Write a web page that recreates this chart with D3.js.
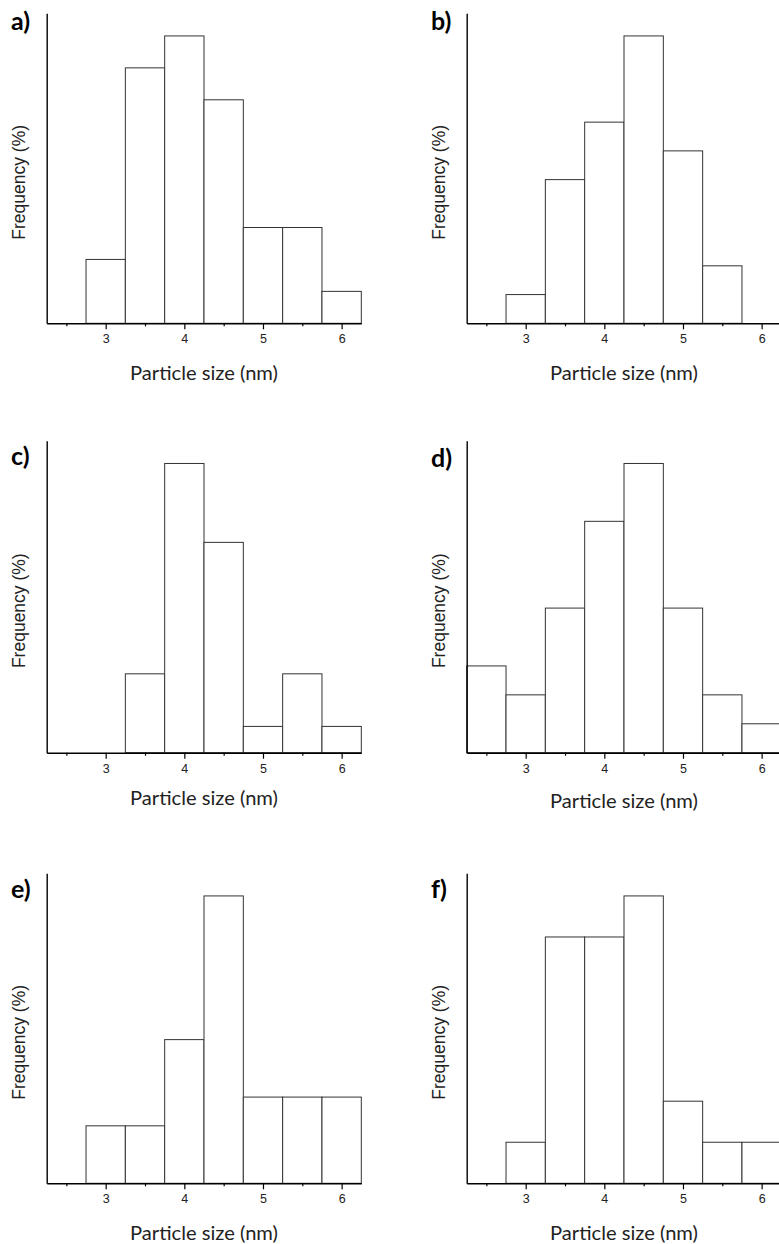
<!DOCTYPE html>
<html>
<head>
<meta charset="utf-8">
<script src="https://cdn.jsdelivr.net/npm/d3@7"></script>
<style>
  html, body { margin: 0; padding: 0; background: #fff; }
  svg { display: block; }
</style>
</head>
<body>
<svg id="chart" width="779" height="1244"></svg>
<script>
// ---- data ----
const binCenters = [2.5, 3, 3.5, 4, 4.5, 5, 5.5, 6];
const panelLabels = ["a)", "b)", "c)", "d)", "e)", "f)"];
const countsA = [0, 2, 8, 9, 7, 3, 3, 1];
const countsB = [0, 1, 5, 7, 10, 6, 2, 0];
const countsC = [0, 0, 3, 11, 8, 1, 3, 1];
const countsD = [3, 2, 5, 8, 10, 5, 2, 1];
const countsE = [0, 2, 2, 5, 10, 3, 3, 3];
const countsF = [0, 1, 6, 6, 7, 2, 1, 1];
const majorTicks = [3, 4, 5, 6];
const minorTicks = [2.5, 3.5, 4.5, 5.5];
const xDomain = [2.25, 6.25];
const binWidth = 0.5;
const xTitle = "Particle size (nm)";
const yTitle = "Frequency (%)";

const series = [countsA, countsB, countsC, countsD, countsE, countsF];

// ---- layout ----
const colLeft = [46.7, 466.7];
const rowTop = [13.3, 440.7, 873.3];
const rowBottom = [323.3, 752.7, 1183.3];
const axisWidth = 314.6;
const fillRatio = 0.927;
const labelTop = [[10, 10], [445, 447], [878, 878]];
const xTitleOffset = [[56.7, 56.7], [52, 55], [57, 57]];

const svg = d3.select("#chart");

series.forEach((counts, i) => {
  const col = i % 2, row = Math.floor(i / 2);
  const left = colLeft[col], top = rowTop[row], bottom = rowBottom[row];
  const x = d3.scaleLinear().domain(xDomain).range([left, left + axisWidth]);
  const y = d3.scaleLinear().domain([0, d3.max(counts) / fillRatio]).range([bottom, top]);
  const g = svg.append("g");

  // bars
  g.selectAll("rect.bar")
    .data(binCenters.map((c, k) => ({ c, v: counts[k] })).filter(d => d.v > 0))
    .join("rect")
    .attr("class", "bar")
    .attr("x", d => x(d.c - binWidth / 2))
    .attr("width", d => x(d.c + binWidth / 2) - x(d.c - binWidth / 2))
    .attr("y", d => y(d.v))
    .attr("height", d => bottom - y(d.v))
    .attr("fill", "#fff")
    .attr("stroke", "#333")
    .attr("stroke-width", 1);

  // x axis major
  const xa = g.append("g").attr("transform", `translate(0,${bottom})`)
    .call(d3.axisBottom(x).tickValues(majorTicks).tickSize(6).tickSizeOuter(0).tickPadding(5).tickFormat(d3.format("d")));
  xa.select(".domain").attr("stroke", "#000").attr("stroke-width", 1.4);
  xa.selectAll(".tick line").attr("stroke", "#000").attr("stroke-width", 1.2);
  xa.selectAll(".tick text")
    .attr("font-family", "'Liberation Sans', Arial, sans-serif")
    .attr("font-size", 12.5).attr("fill", "#222");
  // x axis minor
  const xm = g.append("g").attr("transform", `translate(0,${bottom})`)
    .call(d3.axisBottom(x).tickValues(minorTicks).tickSize(3).tickSizeOuter(0).tickFormat(""));
  xm.select(".domain").remove();
  xm.selectAll(".tick line").attr("stroke", "#000").attr("stroke-width", 1.2);

  // y axis
  const ya = g.append("g").attr("transform", `translate(${left},0)`)
    .call(d3.axisLeft(y).tickValues([]).tickSizeOuter(0));
  ya.select(".domain").attr("stroke", "#000").attr("stroke-width", 1.4);

  // x title
  const xt = g.append("text")
    .attr("x", left + axisWidth / 2)
    .attr("y", bottom + xTitleOffset[row][col])
    .attr("text-anchor", "middle")
    .attr("font-family", "Lato, 'Open Sans', sans-serif")
    .attr("font-size", 20)
    .attr("fill", "#222")
    .text(xTitle);
  const w = xt.node().getComputedTextLength();
  xt.attr("font-size", 20 * 148 / w);

  // y title
  g.append("text")
    .attr("transform", `translate(${left - 21.7},${(top + bottom) / 2 + 14}) rotate(-90)`)
    .attr("text-anchor", "middle")
    .attr("font-family", "'Liberation Sans', Arial, sans-serif")
    .attr("font-size", 17.5)
    .attr("fill", "#222")
    .text(yTitle);

  // panel label
  g.append("text")
    .attr("x", left - 35.7)
    .attr("y", labelTop[row][col] + 20)
    .attr("font-family", "Lato, 'Open Sans', sans-serif")
    .attr("font-weight", "bold")
    .attr("font-size", 25)
    .attr("fill", "#000")
    .text(panelLabels[i]);
});
</script>
</body>
</html>
